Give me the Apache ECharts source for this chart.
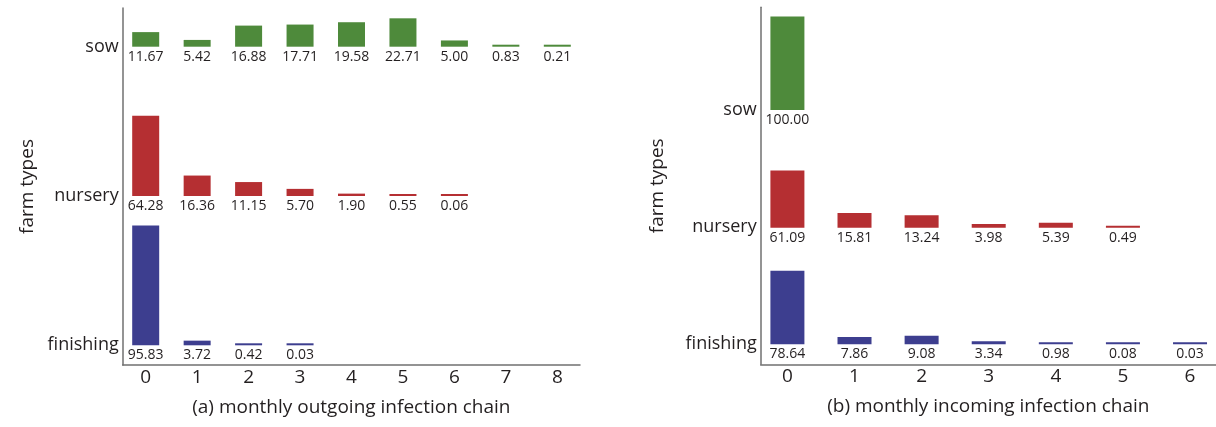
<!DOCTYPE html>
<html>
<head>
<meta charset="utf-8">
<script src="https://cdn.jsdelivr.net/npm/echarts@6/dist/echarts.min.js"></script>
<style>
  html, body { margin: 0; padding: 0; background: #ffffff; }
  #chart { width: 1216px; height: 427px; }
</style>
</head>
<body>
<div id="chart"></div>
<script>
// Farm types, top row to bottom row
const farmTypes = ['sow', 'nursery', 'finishing'];

// (a) monthly outgoing infection chain: share of farms (%) per chain length
const outgoingChainLengths = [0, 1, 2, 3, 4, 5, 6, 7, 8];
const outgoingSow = [11.67, 5.42, 16.88, 17.71, 19.58, 22.71, 5.00, 0.83, 0.21];
const outgoingNursery = [64.28, 16.36, 11.15, 5.70, 1.90, 0.55, 0.06];
const outgoingFinishing = [95.83, 3.72, 0.42, 0.03];

// (b) monthly incoming infection chain
const incomingChainLengths = [0, 1, 2, 3, 4, 5, 6];
const incomingSow = [100.00];
const incomingNursery = [61.09, 15.81, 13.24, 3.98, 5.39, 0.49];
const incomingFinishing = [78.64, 7.86, 9.08, 3.34, 0.98, 0.08, 0.03];

const panelTitles = ['(a) monthly outgoing infection chain', '(b) monthly incoming infection chain'];
const yAxisTitle = 'farm types';

// styling
const farmColors = ['#4e8a3b', '#b52f32', '#3d3e8f'];
const FONT = '"Open Sans", "Noto Sans", sans-serif';
const TEXT = '#231f20';
const AXIS = '#707070';

// pixel layout of each panel (frame box, row baselines, bar scale)
const layouts = [
  { left: 122.7, top: 8, width: 457.3, axisY: 365, xMin: -0.447, xMax: 8.441,
    baselines: [46.7, 196, 345.3], pxPerUnit: 1.25, barWidth: 27, yNameGap: 86 },
  { left: 760.7, top: 7.3, width: 455.3, axisY: 364.3, xMin: -0.398, xMax: 6.387,
    baselines: [110, 227.7, 344.3], pxPerUnit: 0.935, barWidth: 34, yNameGap: 94 }
];

const panels = [
  { title: panelTitles[0], chains: outgoingChainLengths, rows: [outgoingSow, outgoingNursery, outgoingFinishing] },
  { title: panelTitles[1], chains: incomingChainLengths, rows: [incomingSow, incomingNursery, incomingFinishing] }
];

const grid = [], xAxis = [], yAxis = [], series = [];

panels.forEach((panel, p) => {
  const L = layouts[p];
  const b0 = L.baselines[0];
  const rowStep = (L.baselines[2] - b0) / 2;

  // frame: axis lines, chain-length labels, farm-type labels and axis names
  const fi = grid.length;
  grid.push({ left: L.left, top: L.top, width: L.width, height: L.axisY - L.top });
  xAxis.push({
    gridIndex: fi, type: 'value', min: L.xMin, max: L.xMax,
    axisLine: { show: true, onZero: false, lineStyle: { color: AXIS, width: 1.5 } },
    axisTick: { show: false },
    splitLine: { show: false },
    axisLabel: {
      customValues: panel.chains, color: TEXT, fontSize: 19, fontFamily: FONT, margin: 3,
      formatter: v => String(Math.round(v))
    },
    name: panel.title, nameLocation: 'middle', nameGap: 33,
    nameTextStyle: { color: TEXT, fontSize: 19, fontFamily: FONT }
  });
  yAxis.push({
    gridIndex: fi, type: 'value', inverse: true,
    min: (L.top - b0) / rowStep, max: (L.axisY - b0) / rowStep,
    axisLine: { show: true, onZero: false, lineStyle: { color: AXIS, width: 1.5 } },
    axisTick: { show: false },
    splitLine: { show: false },
    axisLabel: {
      customValues: [0, 1, 2], color: TEXT, fontSize: 18, fontFamily: FONT, margin: 4,
      formatter: v => farmTypes[Math.round(v)]
    },
    name: yAxisTitle, nameLocation: 'middle', nameRotate: 90, nameGap: L.yNameGap,
    nameTextStyle: { color: TEXT, fontSize: 19, fontFamily: FONT }
  });

  // one row of bars per farm type, sharing the frame's horizontal scale
  panel.rows.forEach((vals, r) => {
    const base = L.baselines[r];
    const h = base - L.top;
    const gi = grid.length;
    grid.push({ left: L.left, top: L.top, width: L.width, height: h });
    xAxis.push({ gridIndex: gi, type: 'value', min: L.xMin, max: L.xMax, show: false });
    yAxis.push({ gridIndex: gi, type: 'value', min: 0, max: h / L.pxPerUnit, show: false });
    series.push({
      type: 'bar',
      name: farmTypes[r],
      xAxisIndex: gi, yAxisIndex: gi,
      data: vals.map((v, i) => [panel.chains[i], v]),
      barWidth: L.barWidth,
      barMinHeight: 2,
      itemStyle: { color: farmColors[r] },
      label: {
        show: true, position: 'bottom', distance: 3,
        color: TEXT, fontSize: 14, fontFamily: FONT,
        formatter: prm => prm.value[1].toFixed(2)
      },
      silent: true
    });
  });
});

const chart = echarts.init(document.getElementById('chart'), null, { renderer: 'canvas' });
chart.setOption({
  animation: false,
  backgroundColor: '#ffffff',
  grid, xAxis, yAxis, series
});
</script>
</body>
</html>
